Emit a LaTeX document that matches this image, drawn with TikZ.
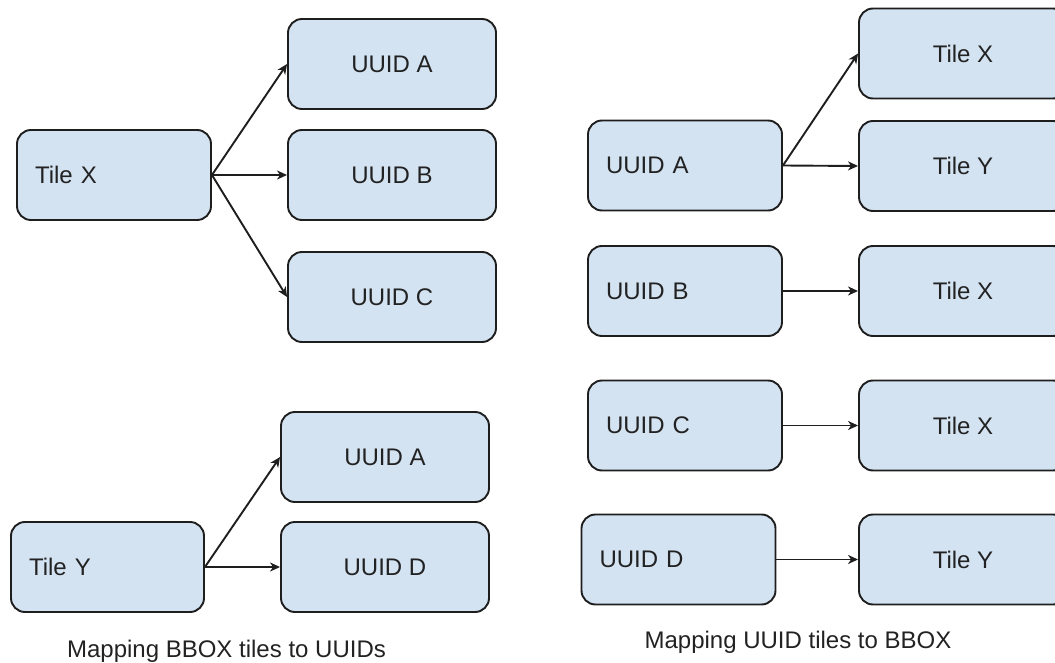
\documentclass[tikz,border=0pt]{standalone}
\usepackage{fontspec}
\setmainfont{Liberation Sans}
\usetikzlibrary{arrows.meta}
\definecolor{boxfill}{HTML}{D4E3F2}
\definecolor{boxline}{HTML}{1E1E1E}
\definecolor{txt}{HTML}{222222}
\begin{document}
\begin{tikzpicture}[x=1pt,y=-1pt,
  box/.style={draw=boxline, line width=1.9pt, fill=boxfill, rounded corners=14pt,
    minimum height=90pt, inner sep=0pt, text=txt, font=\fontsize{24}{28}\selectfont},
  cbox/.style={box, minimum width=208pt},
  lbox/.style={box, text width=#1, inner xsep=18pt, align=left},
  arr/.style={draw=boxline, line width=1.9pt, -{Stealth[length=10pt,width=9pt,inset=3pt]}},
  captext/.style={anchor=base, text=txt, font=\fontsize{24}{28}\selectfont}]
\useasboundingbox (0,0) rectangle (1055,663);
\clip (0,0) rectangle (1055,663);
% left: BBOX tiles to UUIDs
\node[lbox=158pt] (tx) at (114,175) {Tile X};
\node[cbox] (la) at (392,64) {UUID A};
\node[cbox] (lb) at (392,175) {UUID B};
\node[cbox] (lc) at (392,297) {UUID C};
\node[lbox=157pt] (ty) at (107.5,567) {Tile Y};
\node[cbox] (la2) at (385,457) {UUID A};
\node[cbox] (ld) at (385,567) {UUID D};
\draw[arr] (tx.east) -- (la.west);
\draw[arr] (tx.east) -- (lb.west);
\draw[arr] (tx.east) -- (lc.west);
\draw[arr] (ty.east) -- (la2.west);
\draw[arr] (ty.east) -- (ld.west);
\node[captext] (capl) at (226.5,657) {Mapping BBOX tiles to UUIDs};
% right: UUID tiles to BBOX
\node[lbox=158pt] (ra) at (685,165.5) {UUID A};
\node[cbox] (rtx1) at (963,53.5) {Tile X};
\node[cbox] (rty1) at (963,166) {Tile Y};
\node[lbox=158pt] (rb) at (685,291) {UUID B};
\node[cbox] (rtx2) at (963,291) {Tile X};
\node[lbox=158pt] (rc) at (685,425.5) {UUID C};
\node[cbox] (rtx3) at (963,425.5) {Tile X};
\node[lbox=158pt] (rd) at (678.5,559.5) {UUID D};
\node[cbox] (rty2) at (963,559.5) {Tile Y};
\draw[arr] (ra.east) -- (rtx1.west);
\draw[arr] (ra.east) -- (rty1.west);
\draw[arr] (rb.east) -- (rtx2.west);
\draw[arr] (rc.east) -- (rtx3.west);
\draw[arr] (rd.east) -- (rty2.west);
\node[captext] (capr) at (798,648) {Mapping UUID tiles to BBOX};
\end{tikzpicture}
\end{document}
